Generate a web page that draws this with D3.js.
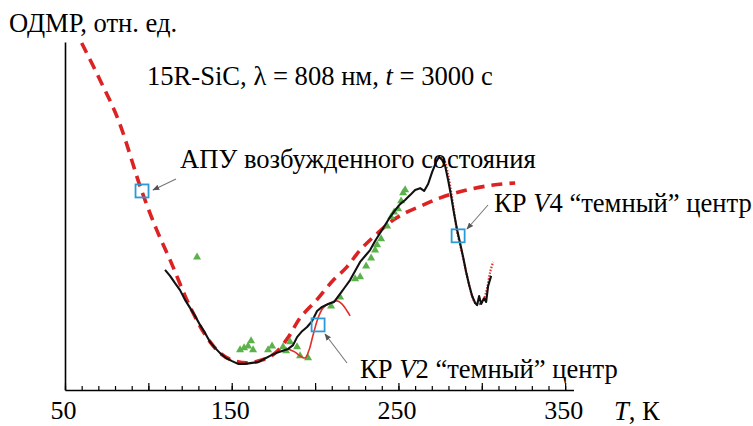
<!DOCTYPE html>
<html><head><meta charset="utf-8">
<script src="https://cdn.jsdelivr.net/npm/d3@7"></script>
<style>
html,body{margin:0;padding:0;background:#fff;}
svg{display:block;}
svg text{font-family:"Liberation Serif","Times New Roman",Tinos,"DejaVu Serif",serif !important;}
</style></head>
<body>
<svg id="c" width="753" height="426"></svg>
<script>
// ---- data (T in K, ODMR in relative units) ----
const xTickLabels = [50, 150, 250, 350];

// broad APU (excited state) curve, red dashed
const apuT = [60,71,82,96,105,113,125,135,143,150,159,168,176,184,191,201,211,219,227,235,247,255,265,275,291,307,320];
const apuV = [99.7,89.1,77.6,57.2,46.0,37.4,23.9,15.2,10.6,8.6,7.8,8.6,10.6,15.2,20.7,25.9,31.6,35.3,40.2,44.0,48.9,51.1,53.2,55.2,57.5,58.9,59.5];

// measured ODMR, black solid
const expT = [110,113,116,119,122,125,128,131,134,137,140,143,146.6,150.2,153.8,158,162.2,165.8,169.4,173,176.6,180.2,183.8,186.8,189.2,192.2,195.2,198.2,201.2,204.2,207.8,211.4,215,218,221,224,227,230,233,236,239,242,245,248,251,254,257,260,263,265.4,267.8,270.2,272.6,274.4,276.2,278,279.8,281.6,283.4,285.2,287,288.8,290.6,292.4,294.2,296,297.2,298.4,299.6,301.4,302.6,303.8,305.6];
const expV = [34.5,32.8,30.7,28.7,25.9,23.6,21.3,18.7,16.4,13.8,12.1,10.6,9.2,8.3,7.5,7.5,7.8,8.0,8.9,9.8,10.6,11.2,11.8,12.9,15.2,16.9,18.1,19.8,22.7,23.9,24.7,25.3,27.6,29.6,31.6,34.2,36.8,38.5,40.2,42.8,45.1,47.4,49.7,51.7,53.4,54.6,56.0,57.5,58.0,57.2,59.2,62.6,65.5,67.0,66.1,64.4,60.3,55.7,50.6,46.0,42.2,38.2,33.9,30.2,27.0,25.0,24.4,27.0,24.7,26.4,25.3,29.9,32.8];

// V2 dark centre component, red thin
const v2T = [183.8,188,191,194,196.4,198.8,201.8,204.8,209,213.2,216.2,219.2,221];
const v2V = [11.8,10.9,9.8,9.2,11.5,15.8,20.7,23.6,25.0,25.6,24.7,22.7,21.3];

// V4 dark centre component, red dotted
const v4T = [273.8,275,277.4,279.8,281.6,283.4,285.2,287,288.8,290.6,292.4,294.2,296,297.8,299.6,301.4,303.2,305,306.8];
const v4V = [66.7,67.0,66.1,61.8,56.9,51.1,45.4,41.7,37.9,33.9,30.2,27.0,25.0,24.4,25.3,26.4,29.3,33.9,36.8];

// green triangles
const triT = [129.2,155,157.4,159.8,161.6,162.8,171.8,174.2,180.8,182.6,185,189.2,191,195.8,209.6,215,224,227,230.6,233.6,236,237.2,239.6,243.2,245.6,247.4,249.8,251.6,252.8,254];
const triV = [38.2,11.5,12.1,12.6,14.1,11.5,11.5,12.6,12.4,11.2,13.8,12.4,9.8,9.2,24.1,26.7,31.9,32.5,35.6,37.9,40.2,41.7,43.4,47.1,49.7,51.1,52.0,54.3,56.6,57.5];

// blue square markers
const markT = [96.2, 201.8, 285.8];
const markV = [57.2, 18.7, 44.3];

// ---- drawing ----
const svg = d3.select("#c");
const x = d3.scaleLinear().domain([50, 355]).range([65, 573.5]);
const y = d3.scaleLinear().domain([0, 100]).range([390, 42]);
const FS = 26.6;
const FF = "'Liberation Serif','Times New Roman',Tinos,'DejaVu Serif',serif";

const zip = (a, b) => a.map((t, i) => [t, b[i]]);
const line = d3.line().x(d => x(d[0])).y(d => y(d[1]));

// axes
const gx = svg.append("g").attr("transform", "translate(0,390)");
gx.call(d3.axisBottom(x).tickValues(d3.range(50, 351, 10)).tickSize(-4).tickSizeOuter(0).tickFormat(""));
gx.append("g").call(d3.axisBottom(x).tickValues(d3.range(50, 351, 50)).tickSize(-7).tickSizeOuter(0).tickFormat(""))
  .select(".domain").remove();
gx.selectAll(".domain").attr("stroke", "#000").attr("stroke-width", 1.6);
gx.selectAll(".tick line").attr("stroke", "#000").attr("stroke-width", 1.2);

const gl = svg.append("g").attr("transform", "translate(0,390)");
gl.call(d3.axisBottom(x).tickValues(xTickLabels).tickSize(0).tickPadding(11).tickFormat(d3.format("d")));
gl.attr("font-family", FF).attr("font-size", 26);
gl.select(".domain").remove();
gl.selectAll(".tick text").attr("font-size", 26).attr("font-family", FF).attr("fill", "#000").attr("dx", -2);

const gy = svg.append("g").attr("transform", "translate(65,0)");
gy.call(d3.axisLeft(y).tickValues([]).tickSizeOuter(0));
gy.select(".domain").attr("stroke", "#000").attr("stroke-width", 1.6);

// APU dashed
svg.append("path").datum(zip(apuT, apuV))
  .attr("d", line.curve(d3.curveCatmullRom))
  .attr("fill", "none").attr("stroke", "#dc2222").attr("stroke-width", 3.6)
  .attr("stroke-dasharray", "11,7");

// triangles
const tri = d3.symbol().type(d3.symbolTriangle).size(28);
svg.append("g").selectAll("path").data(zip(triT, triV)).join("path")
  .attr("d", tri).attr("transform", d => `translate(${x(d[0])},${y(d[1])})`)
  .attr("fill", "#5cb24a");

// V2 component
svg.append("path").datum(zip(v2T, v2V))
  .attr("d", line.curve(d3.curveCatmullRom))
  .attr("fill", "none").attr("stroke", "#e0302a").attr("stroke-width", 1.6);

// V4 component
svg.append("path").datum(zip(v4T, v4V))
  .attr("d", line.curve(d3.curveCatmullRom))
  .attr("fill", "none").attr("stroke", "#e0302a").attr("stroke-width", 2.2)
  .attr("stroke-dasharray", "1.5,1.5");

// experiment black
svg.append("path").datum(zip(expT, expV))
  .attr("d", line.curve(d3.curveLinear))
  .attr("fill", "none").attr("stroke", "#111").attr("stroke-width", 2.1)
  .attr("stroke-linejoin", "round");

// blue squares
svg.append("g").selectAll("rect").data(zip(markT, markV)).join("rect")
  .attr("x", d => x(d[0]) - 6.5).attr("y", d => y(d[1]) - 6.5)
  .attr("width", 13).attr("height", 13)
  .attr("fill", "none").attr("stroke", "#2a9ad8").attr("stroke-width", 1.8);

// arrows
svg.append("defs").append("marker").attr("id", "ah")
  .attr("viewBox", "0 0 10 10").attr("refX", 9).attr("refY", 5)
  .attr("markerWidth", 7).attr("markerHeight", 7).attr("orient", "auto")
  .attr("markerUnits", "userSpaceOnUse")
  .append("path").attr("d", "M0,1 L10,5 L0,9 Z").attr("fill", "#555");
const arrows = [[176, 179, 153, 190], [347, 363, 325, 334], [488, 205, 467, 229]];
svg.append("g").selectAll("line").data(arrows).join("line")
  .attr("x1", d => d[0]).attr("y1", d => d[1]).attr("x2", d => d[2]).attr("y2", d => d[3])
  .attr("stroke", "#777").attr("stroke-width", 1.1).attr("marker-end", "url(#ah)");

// texts
function txt(xp, yp, parts) {
  const t = svg.append("text").attr("x", xp).attr("y", yp)
    .attr("font-size", FS).attr("font-family", FF).attr("fill", "#000");
  parts.forEach(p => {
    const s = t.append("tspan").text(p[0]);
    if (p[1]) s.attr("font-style", "italic");
  });
  return t;
}
txt(9, 32, [["ОДМР, отн. ед."]]);
txt(147, 85, [["15R-SiC, λ = 808 нм, "], ["t", 1], [" = 3000 с"]]);
txt(180, 168, [["АПУ возбужденного состояния"]]);
txt(494, 212, [["КР "], ["V", 1], ["4 “темный” центр"]]);
txt(360, 378, [["КР "], ["V", 1], ["2 “темный” центр"]]);
txt(614, 420, [["T", 1], [", К"]]);
</script>
</body></html>
